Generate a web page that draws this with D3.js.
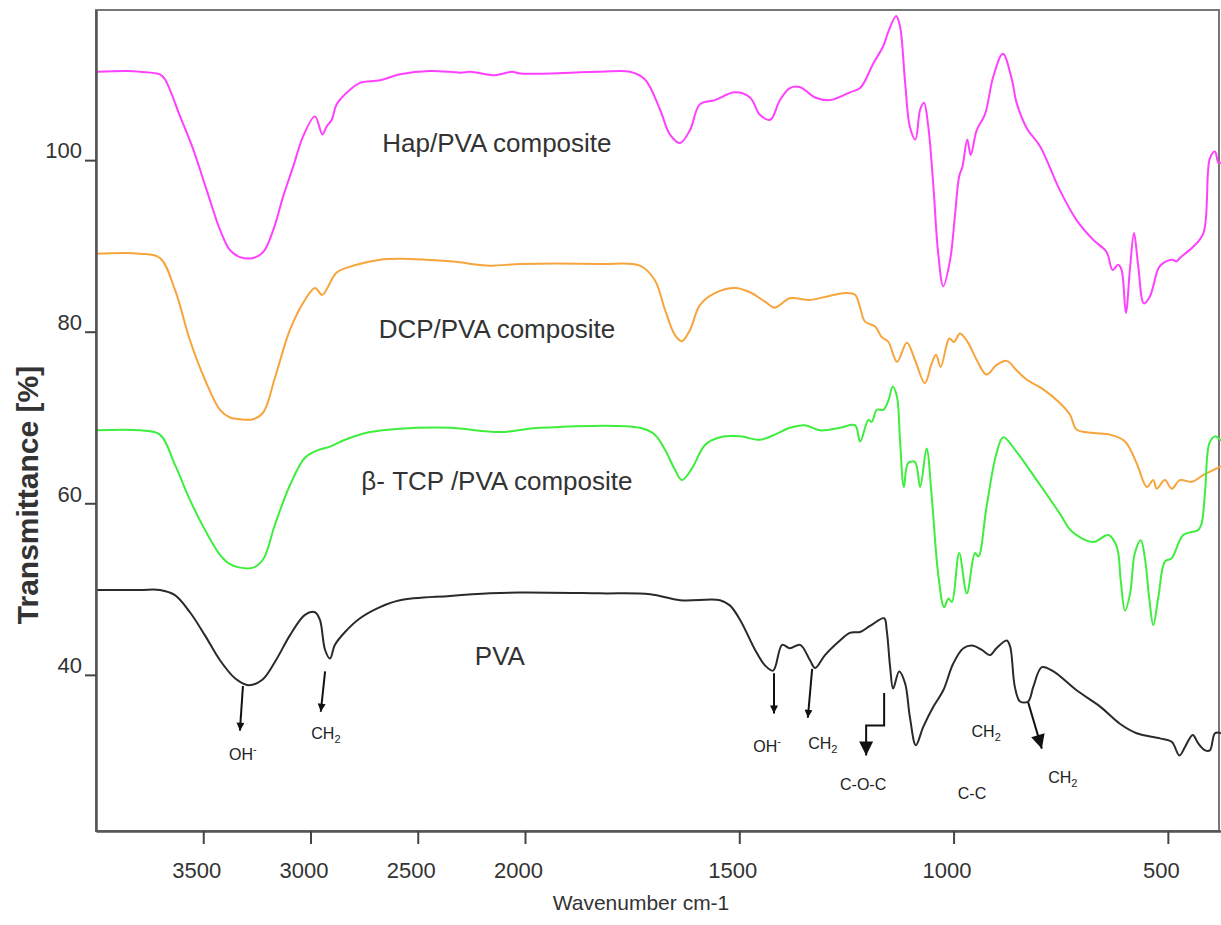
<!DOCTYPE html>
<html>
<head>
<meta charset="utf-8">
<script src="https://cdn.jsdelivr.net/npm/d3@7"></script>
<style>
  body { margin: 0; background: #fff; }
  svg { display: block; font-family: "Liberation Sans", Arial, sans-serif; }
</style>
</head>
<body>
<svg id="chart" width="1221" height="925"></svg>
<script>
// FTIR spectra, [wavenumber cm-1, transmittance %]
const hapPVA = [
  [4000,110.3],[3850,110.4],[3795,110.3],[3702,110.0],[3678,109.4],[3608,105.1],[3546,101.2],
  [3484,96.5],[3422,91.9],[3375,89.5],[3329,88.7],[3267,88.6],[3220,89.3],[3173,91.9],
  [3127,95.8],[3080,99.3],[3034,102.8],[2979,105.1],[2945,103.0],[2925,103.9],[2901,104.7],
  [2878,106.5],[2816,108.2],[2769,109.0],[2676,109.3],[2583,110.0],[2443,110.4],[2300,110.2],
  [2256,110.3],[2150,109.9],[2117,110.0],[2060,110.3],[2023,110.1],
  [1825,110.3],[1755,110.3],[1720,109.4],[1685,105.9],[1662,103.0],[1638,102.0],[1615,103.5],
  [1592,106.5],[1557,107.0],[1510,107.9],[1475,107.3],[1452,105.3],[1428,104.7],[1405,107.0],
  [1382,108.4],[1358,108.5],[1323,107.3],[1288,107.0],[1242,107.9],[1218,108.4],[1187,111.3],
  [1164,113.3],[1152,115.0],[1134,116.8],[1125,115.6],[1113,109.0],[1102,103.9],[1089,102.4],
  [1078,105.9],[1069,106.7],[1059,103.9],[1047,96.9],[1036,89.2],[1024,85.3],[1008,88.4],
  [997,93.4],[987,98.1],[979,99.3],[968,102.4],[960,100.6],[946,103.5],[927,105.3],[907,109.8],
  [885,112.4],[864,109.4],[853,106.7],[829,103.7],[798,101.6],[752,96.5],[713,93.0],[674,90.7],
  [643,89.3],[629,87.2],[616,87.8],[608,87.2],[598,82.2],[588,87.6],[579,91.5],[569,87.6],
  [556,83.3],[542,84.1],[522,87.4],[511,88.0],[490,88.4],[480,88.2],[472,88.6],[441,89.9],
  [417,91.5],[402,100.2],[390,101.0],[382,99.7],[376,99.7]
];
const dcpPVA = [
  [4000,89.1],[3795,89.1],[3702,88.6],[3632,84.9],[3562,79.0],[3492,74.4],[3422,70.9],
  [3375,70.0],[3329,69.8],[3267,69.8],[3220,70.6],[3166,74.6],[3096,80.2],[3026,83.7],[2979,85.1],
  [2945,84.3],[2878,86.9],[2785,87.8],[2676,88.4],[2583,88.5],[2350,88.2],[2163,87.7],
  [2023,87.9],[1825,87.9],[1732,87.7],[1697,86.0],[1673,82.5],[1650,79.6],[1634,78.9],
  [1615,80.2],[1592,83.1],[1557,84.5],[1510,85.1],[1475,84.6],[1440,83.5],[1417,82.8],
  [1382,83.9],[1335,83.7],[1288,84.2],[1253,84.5],[1230,84.3],[1218,82.8],[1207,81.2],
  [1183,80.6],[1168,79.4],[1152,78.8],[1132,76.5],[1109,78.7],[1090,76.7],[1067,74.0],
  [1051,76.3],[1041,77.3],[1030,75.9],[1010,79.2],[999,78.8],[985,79.8],[966,78.7],[946,76.7],
  [923,75.0],[900,76.1],[876,76.6],[853,75.5],[829,74.4],[794,73.4],[752,71.7],[728,70.3],
  [713,68.6],[674,68.2],[635,68.0],[600,67.2],[573,64.7],[549,61.9],[534,62.7],[526,61.7],
  [507,62.7],[491,61.7],[472,62.7],[444,62.5],[417,63.3],[376,64.3]
];
const tcpPVA = [
  [4000,68.5],[3795,68.5],[3702,68.0],[3632,64.5],[3562,60.4],[3492,56.9],[3422,54.0],
  [3375,52.9],[3329,52.5],[3267,52.5],[3220,53.5],[3166,57.5],[3096,62.1],[3026,65.3],[2965,66.2],
  [2909,66.6],[2839,67.4],[2723,68.3],[2583,68.7],[2350,68.8],[2117,68.3],[1965,68.8],
  [1732,68.8],[1697,68.0],[1673,66.2],[1650,63.9],[1634,62.7],[1610,64.1],[1580,66.8],
  [1545,67.7],[1498,67.8],[1452,67.4],[1417,68.0],[1382,68.8],[1347,69.1],[1312,68.5],
  [1265,68.8],[1230,69.1],[1218,67.2],[1199,69.7],[1191,69.5],[1179,70.9],[1164,70.9],
  [1152,72.0],[1142,73.6],[1132,72.4],[1125,67.4],[1116,61.9],[1106,64.7],[1090,64.8],
  [1078,61.9],[1063,66.4],[1051,60.8],[1036,51.8],[1022,47.9],[1012,48.9],[1004,48.5],
  [987,54.2],[969,49.5],[950,54.2],[942,53.8],[923,59.6],[900,65.8],[884,67.7],[853,66.0],
  [806,62.7],[752,58.8],[724,56.7],[674,55.5],[639,56.3],[619,54.9],[610,51.0],[600,47.5],
  [588,49.5],[577,54.2],[563,55.7],[553,53.4],[543,48.7],[534,45.8],[522,49.1],[507,53.2],
  [491,53.6],[464,56.3],[429,56.9],[421,57.7],[413,61.5],[403,67.0],[390,67.8],[376,67.3]
];
const pva = [
  [4000,49.9],[3795,49.9],[3702,49.9],[3632,49.3],[3562,47.3],[3492,44.6],[3422,41.7],
  [3352,39.6],[3291,38.8],[3226,39.4],[3166,41.5],[3096,44.6],[3026,47.0],[2979,47.3],
  [2956,46.4],[2932,42.9],[2909,41.9],[2886,43.5],[2839,45.0],[2769,46.6],[2676,47.9],
  [2583,48.7],[2350,49.2],[2163,49.5],[2023,49.6],[1825,49.5],[1708,49.4],[1638,48.7],
  [1545,48.7],[1522,48.1],[1498,46.4],[1463,42.9],[1440,41.1],[1421,40.5],[1400,43.5],
  [1382,43.1],[1358,43.5],[1335,41.7],[1323,40.8],[1300,42.3],[1265,44.0],[1242,44.9],
  [1218,45.0],[1195,45.7],[1162,46.6],[1156,45.2],[1148,40.9],[1141,38.4],[1127,40.4],
  [1113,39.0],[1102,35.1],[1088,31.8],[1071,33.9],[1047,36.3],[1024,38.2],[1001,41.3],
  [977,43.1],[954,43.4],[934,42.9],[915,42.3],[900,43.1],[876,44.0],[868,43.3],[857,38.6],
  [845,36.9],[826,36.9],[814,38.6],[794,40.9],[767,40.4],[713,38.2],[658,36.3],[612,34.3],
  [573,33.2],[518,32.6],[491,32.2],[473,30.6],[460,31.6],[442,33.0],[429,32.0],[413,31.2],
  [402,31.2],[390,33.2],[376,33.2]
];

const seriesNames = ["Hap/PVA composite", "DCP/PVA composite", "\u03b2- TCP /PVA composite", "PVA"];
const seriesColors = ["#ff40ff", "#f7a43c", "#3eee3e", "#2a2a2a"];
const seriesData = [hapPVA, dcpPVA, tcpPVA, pva];
// label anchor [wavenumber, transmittance]
const seriesLabelPos = [[2131,101.0],[2131,79.3],[2131,61.5],[2117,41.1]];

const xTicks = [3500, 3000, 2500, 2000, 1500, 1000, 500];
const yTicks = [100, 80, 60, 40];

// peak assignments: arrow points and label positions in data units
const arrows = [
  {pts: [[3315,38.7],[3329,33.5]], head: "small"},
  {pts: [[2932,40.4],[2952,35.7]], head: "small"},
  {pts: [[1419,40.2],[1419,35.5]], head: "small"},
  {pts: [[1330,40.7],[1340,35.0]], head: "small"},
  {pts: [[1162,37.9],[1162,34.1],[1204,34.1],[1204,30.6]], head: "large"},
  {pts: [[826,36.8],[794,31.4]], head: "large"}
];
const peakLabels = [
  {text: "OH", sup: "-", at: [3315,30.1]},
  {text: "CH", sub: "2", at: [2928,32.5]},
  {text: "OH", sup: "-", at: [1435,31.0]},
  {text: "CH", sub: "2", at: [1305,31.4]},
  {text: "C-O-C", at: [1211,26.6]},
  {text: "CH", sub: "2", at: [924,32.8]},
  {text: "C-C", at: [957,25.5]},
  {text: "CH", sub: "2", at: [745,27.4]}
];

const svg = d3.select("#chart");
const plotLeft = 96, plotRight = 1221, plotTop = 10, plotBottom = 831;

const x = d3.scaleLinear().domain([4000, 2000, 376]).range([plotLeft, 525, plotRight]);
const y = d3.scaleLinear().domain([21.8, 117.5]).range([plotBottom, plotTop]);

// frame
svg.append("rect")
  .attr("x", plotLeft).attr("y", plotTop)
  .attr("width", 1219 - plotLeft).attr("height", plotBottom - plotTop)
  .attr("fill", "none").attr("stroke", "#777").attr("stroke-width", 2);

const defs = svg.append("defs");
[["small", 11, 8], ["large", 18, 14]].forEach(([id, len, w]) => {
  defs.append("marker")
    .attr("id", "head-" + id)
    .attr("viewBox", "0 0 10 10")
    .attr("refX", 10).attr("refY", 5)
    .attr("markerUnits", "userSpaceOnUse")
    .attr("markerWidth", len).attr("markerHeight", w)
    .attr("orient", "auto")
    .append("path").attr("d", "M0,0L10,5L0,10Z").attr("fill", "#111");
});
defs.append("clipPath").attr("id", "clip")
  .append("rect").attr("x", plotLeft).attr("y", plotTop)
  .attr("width", plotRight - plotLeft).attr("height", plotBottom - plotTop);

const line = d3.line()
  .x(d => x(d[0]))
  .y(d => y(d[1]))
  .curve(d3.curveCatmullRom.alpha(0.5));

const plot = svg.append("g");

plot.selectAll(".spectrum")
  .data(seriesData)
  .join("path")
  .attr("class", "spectrum")
  .attr("clip-path", "url(#clip)")
  .attr("d", line)
  .attr("fill", "none")
  .attr("stroke", (d, i) => seriesColors[i])
  .attr("stroke-width", 2)
  .attr("stroke-linejoin", "round");

plot.selectAll(".series-label")
  .data(seriesNames)
  .join("text")
  .attr("class", "series-label")
  .attr("x", (d, i) => x(seriesLabelPos[i][0]))
  .attr("y", (d, i) => y(seriesLabelPos[i][1]))
  .attr("text-anchor", "middle")
  .attr("font-size", 26)
  .attr("fill", "#333")
  .text(d => d);

// arrows
const arrowLine = d3.line().x(d => x(d[0])).y(d => y(d[1]));
plot.selectAll(".arrow")
  .data(arrows)
  .join("path")
  .attr("class", "arrow")
  .attr("d", d => arrowLine(d.pts))
  .attr("fill", "none")
  .attr("stroke", "#111")
  .attr("stroke-width", 2)
  .attr("marker-end", d => "url(#head-" + d.head + ")");

const lab = plot.selectAll(".peak-label")
  .data(peakLabels)
  .join("text")
  .attr("class", "peak-label")
  .attr("x", d => x(d.at[0]))
  .attr("y", d => y(d.at[1]))
  .attr("text-anchor", "middle")
  .attr("font-size", 16)
  .attr("fill", "#222");
lab.append("tspan").text(d => d.text);
lab.filter(d => d.sub).append("tspan")
  .attr("dy", 4).attr("font-size", 11).text(d => d.sub);
lab.filter(d => d.sup).append("tspan")
  .attr("dy", -7).attr("font-size", 11).text(d => d.sup);

// axes
const xAxis = svg.append("g")
  .attr("transform", `translate(0,${plotBottom})`)
  .call(d3.axisBottom(x).tickValues(xTicks).tickSize(13).tickSizeOuter(0).tickFormat(d3.format("d")));
xAxis.select(".domain").attr("stroke", "#555").attr("stroke-width", 2.5);
xAxis.selectAll(".tick line").attr("stroke", "#444").attr("stroke-width", 2);
xAxis.selectAll(".tick text")
  .attr("y", 47).attr("dy", 0).attr("dx", -7)
  .attr("font-size", 22).attr("fill", "#333")
  .attr("font-family", "'Liberation Sans', Arial, sans-serif");

const yAxis = svg.append("g")
  .attr("transform", `translate(${plotLeft},0)`)
  .call(d3.axisLeft(y).tickValues(yTicks).tickSize(11).tickSizeOuter(0));
yAxis.select(".domain").attr("stroke", "#555").attr("stroke-width", 2.5);
yAxis.selectAll(".tick text")
  .attr("x", -14).attr("dy", "-0.1em")
  .attr("font-size", 22).attr("fill", "#333")
  .attr("font-family", "'Liberation Sans', Arial, sans-serif");
yAxis.selectAll(".tick line").attr("stroke", "#444").attr("stroke-width", 2);

svg.append("text")
  .attr("x", 641).attr("y", 910)
  .attr("text-anchor", "middle")
  .attr("font-size", 21)
  .attr("fill", "#333")
  .text("Wavenumber cm-1");

svg.append("text")
  .attr("transform", "translate(38,495) rotate(-90)")
  .attr("text-anchor", "middle")
  .attr("font-size", 30)
  .attr("font-weight", "bold")
  .attr("fill", "#333")
  .text("Transmittance  [%]");
</script>
</body>
</html>
